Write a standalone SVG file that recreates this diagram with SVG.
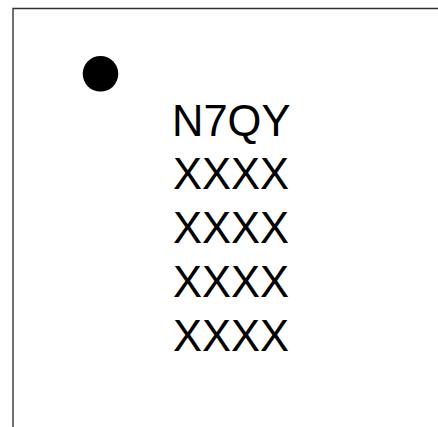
<svg xmlns="http://www.w3.org/2000/svg" width="438" height="427" viewBox="0 0 438 427">
<style>
.frame{fill:none;stroke:#333;stroke-width:1.4}
.t{font-family:"Liberation Sans",Arial,sans-serif;font-size:43.5px;fill:#000}
</style>
<rect width="438" height="427" fill="#fff"/>
<g id="frame">
<path class="frame" d="M13,427 V8.5 H438"/>
</g>
<g id="dot">
<circle cx="100.5" cy="73.8" r="17.8" fill="#000"/>
</g>
<g id="label">
<text class="t" x="172" y="135.5">N7QY</text>
<text class="t" x="173" y="188.5">XXXX</text>
<text class="t" x="173" y="242.5">XXXX</text>
<text class="t" x="173" y="296.5">XXXX</text>
<text class="t" x="173" y="351">XXXX</text>
</g>
</svg>
